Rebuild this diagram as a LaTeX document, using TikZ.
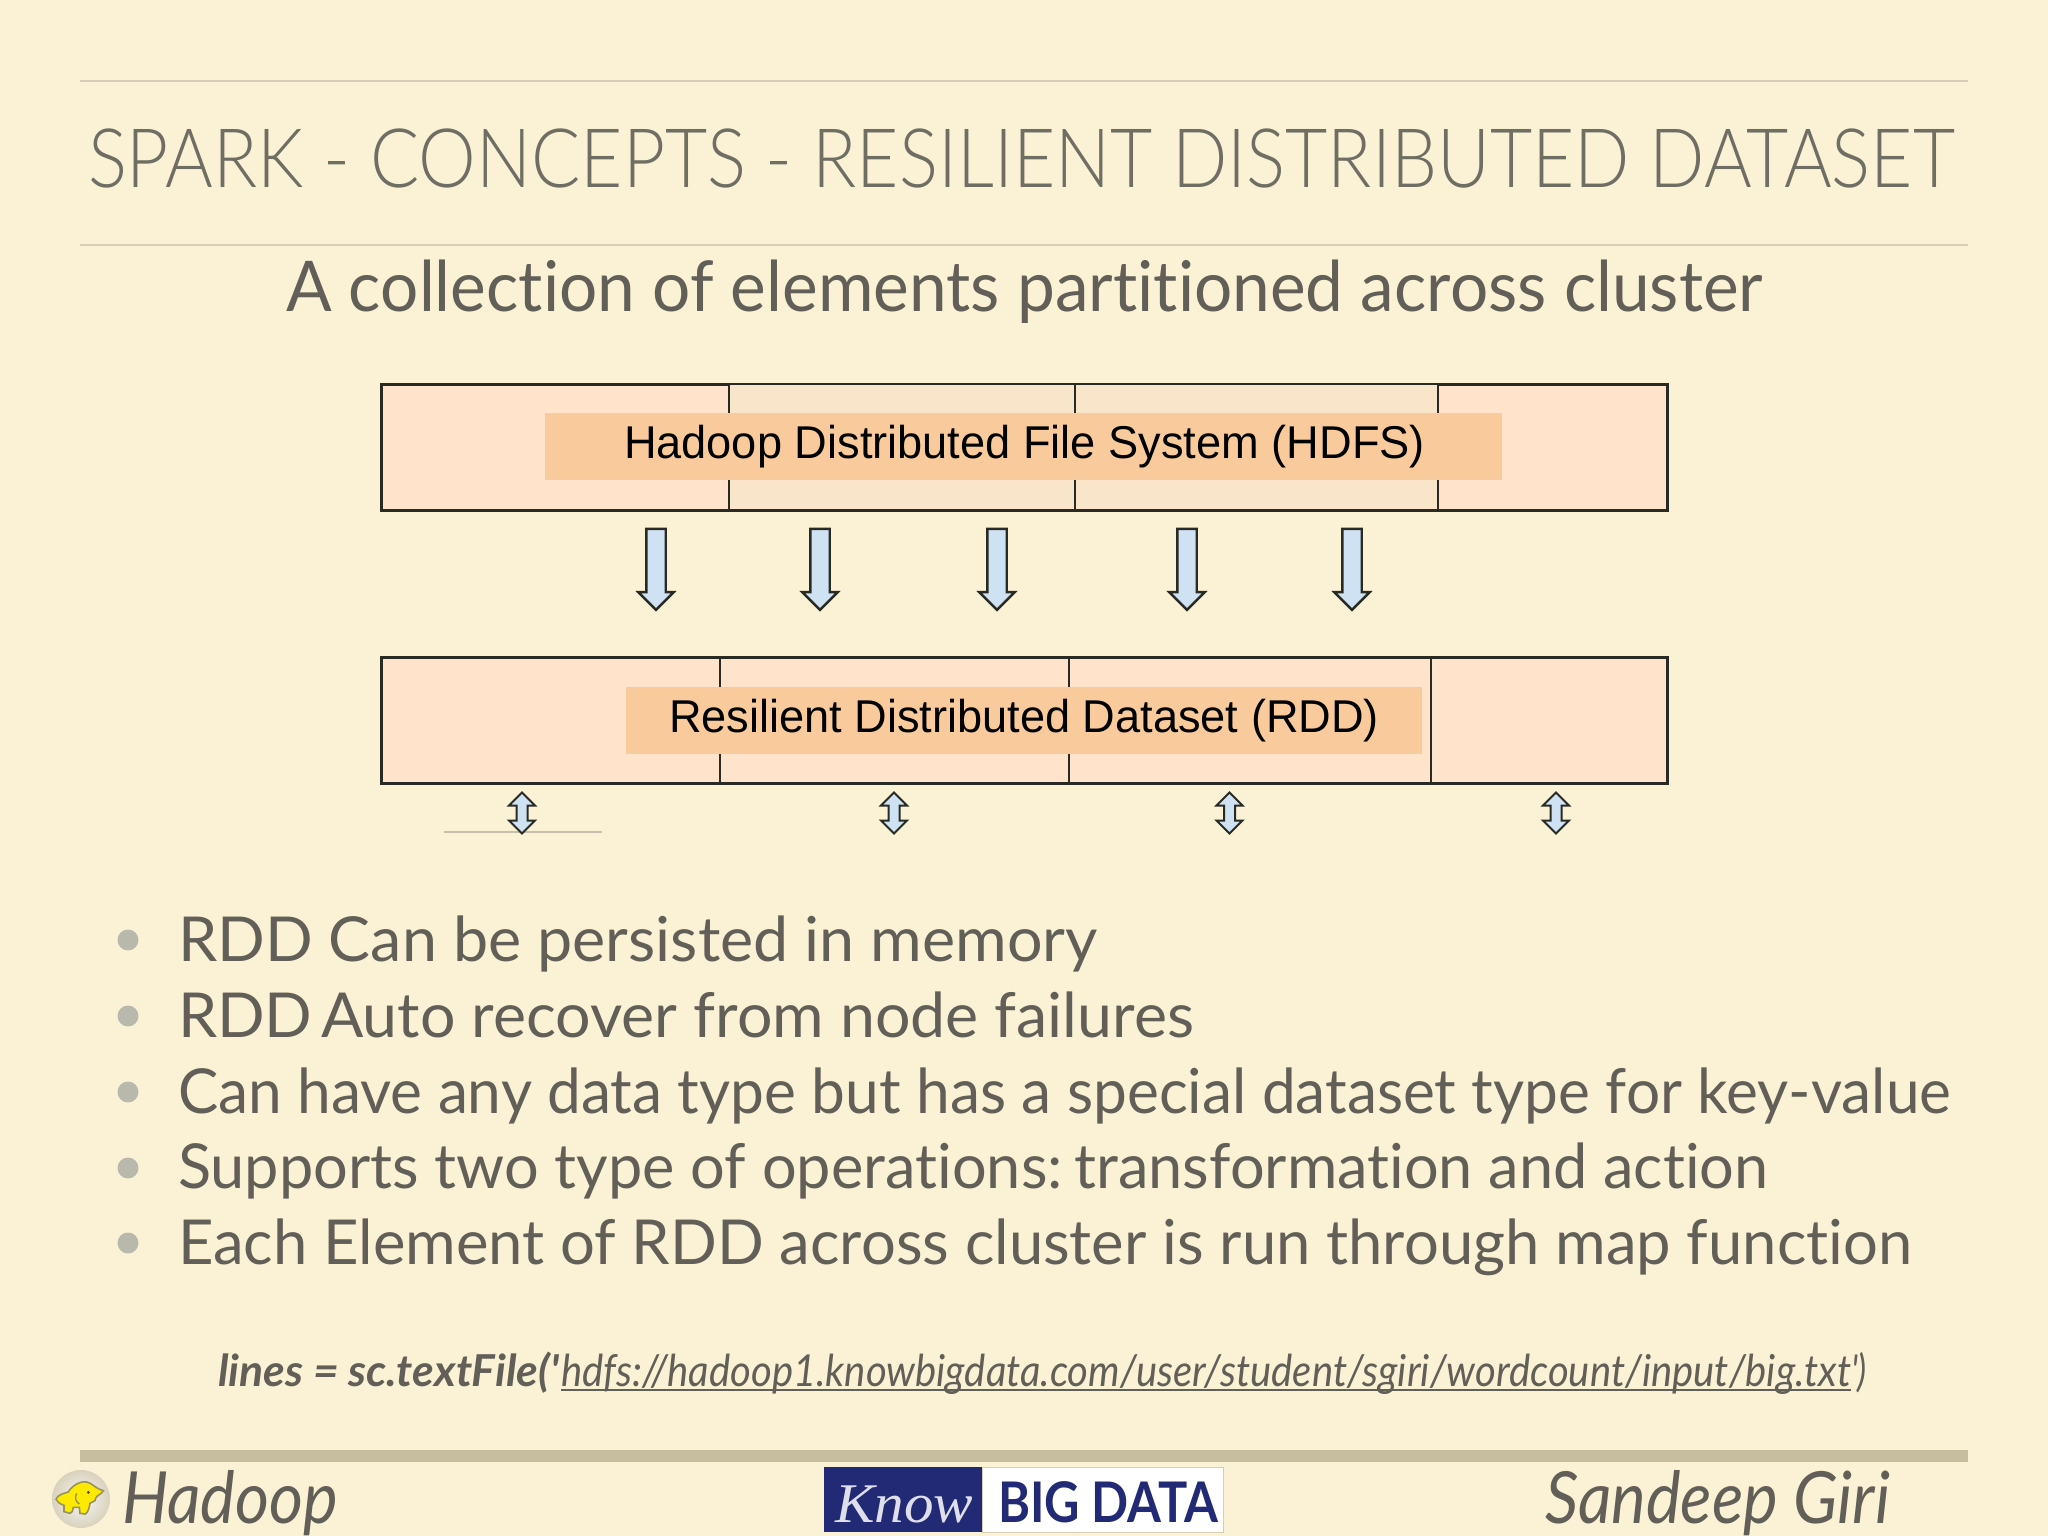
\documentclass[tikz,border=0pt]{standalone}
\usepackage{fontspec}
\usepackage{graphicx}
\usetikzlibrary{shapes.arrows}
\setmainfont{Lato}[Ligatures={NoCommon}]
\newfontfamily\lightf{Lato Light}[Ligatures={NoCommon}]
\newfontfamily\arialf{Liberation Sans}
\newfontfamily\serifx{Liberation Serif}
\newfontfamily\codef{Lato}[Ligatures={NoCommon}]
\newcommand{\fitw}[2]{\resizebox{#1pt}{\height}{#2}}
\newcommand{\fsz}[1]{\fontsize{#1pt}{#1pt}\selectfont}
\definecolor{bgc}{HTML}{FBF2D5}
\definecolor{rulec}{HTML}{D6CFB6}
\definecolor{barc}{HTML}{C7BD9F}
\definecolor{titlec}{HTML}{6F6E64}
\definecolor{bodyc}{HTML}{625F58}
\definecolor{bulc}{HTML}{B9B8AC}
\definecolor{cellc}{HTML}{FFE3CB}
\definecolor{cellm}{HTML}{F9E5C9}
\definecolor{labc}{HTML}{F9CB9C}
\definecolor{linec}{HTML}{2A2A24}
\definecolor{arrc}{HTML}{CFE2F3}
\definecolor{navyc}{HTML}{232A75}
\tikzset{
  txt/.style={anchor=base west,inner sep=0pt,outer sep=0pt},
  box/.style={draw=linec,line width=3pt,fill=cellc,anchor=north west,inner sep=0pt,minimum width=1286pt,minimum height=126pt},
  lab/.style={fill=labc,anchor=north west,inner sep=0pt},
  div/.style={draw=linec,line width=2pt},
  down/.style={single arrow,shape border rotate=270,draw=linec,line width=2.4pt,fill=arrc,inner sep=8.5pt,minimum height=81pt,minimum width=33pt,single arrow head extend=8pt,single arrow head indent=0pt},
  updown/.style={double arrow,shape border rotate=90,draw=linec,line width=2pt,fill=arrc,inner sep=4.5pt,minimum height=41pt,minimum width=24pt,double arrow head extend=7.5pt},
  bul/.style={circle,fill=bulc,inner sep=0pt,minimum size=21pt},
  blt/.style={txt,text=bodyc,font=\fsz{62}}
}
\begin{document}
\begin{tikzpicture}[x=1pt,y=-1pt]
\useasboundingbox (0,0) rectangle (2048,1536);
\fill[bgc] (0,0) rectangle (2048,1536);
% rules
\coordinate (r1a) at (80,81); \coordinate (r1b) at (1968,81);
\coordinate (r2a) at (80,245); \coordinate (r2b) at (1968,245);
\draw[rulec,line width=1.5pt] (r1a) -- (r1b);
\draw[rulec,line width=1.5pt] (r2a) -- (r2b);
\fill[barc] (80,1450) rectangle (1968,1462);
% title
\node[txt,text=titlec,font=\lightf\fsz{82}] (title) at (88,187) {\fitw{1867}{SPARK - CONCEPTS - RESILIENT DISTRIBUTED DATASET}};
\node[txt,text=bodyc,font=\fsz{70}] (sub) at (286,311) {\fitw{1477}{A collection of elements partitioned across cluster}};
% HDFS box
\node[box] (hdfs) at (380,383) {};
\fill[cellm] (729,385) rectangle (1438,507);
\draw[div] (729,383) -- (729,509);
\draw[div] (1075,383) -- (1075,509);
\draw[div] (1438,383) -- (1438,509);
\node[lab,minimum width=957pt,minimum height=67pt] (hdfsl) at (545,413) {};
\node[txt,font=\arialf\fsz{46},text=black] (hdfst) at (624,458) {\fitw{801}{Hadoop Distributed File System (HDFS)}};
% down arrows
\node[down] (a1) at (656,564.5) {};
\node[down] (a2) at (820,564.5) {};
\node[down] (a3) at (997,564.5) {};
\node[down] (a4) at (1187,564.5) {};
\node[down] (a5) at (1352,564.5) {};
% RDD box
\node[box] (rdd) at (380,656) {};
\draw[div] (720,656) -- (720,782);
\draw[div] (1069,656) -- (1069,782);
\draw[div] (1431,656) -- (1431,782);
\node[lab,minimum width=796pt,minimum height=67pt] (rddl) at (626,687) {};
\node[txt,font=\arialf\fsz{46},text=black] (rddt) at (669,732) {\fitw{710}{Resilient Distributed Dataset (RDD)}};
% double arrows
\draw[rulec!80!gray,line width=1.5pt] (444,832) -- (602,832);
\node[updown] (d1) at (522,813) {};
\node[updown] (d2) at (894,813) {};
\node[updown] (d3) at (1229.5,813) {};
\node[updown] (d4) at (1556,813) {};
% bullets
\node[bul] (b1) at (128,940) {};
\node[bul] (b2) at (128,1016) {};
\node[bul] (b3) at (128,1092) {};
\node[bul] (b4) at (128,1168) {};
\node[bul] (b5) at (128,1243) {};
\node[blt] (t1) at (178,961) {\fitw{920}{RDD Can be persisted in memory}};
\node[blt] (t2) at (178,1037) {\fitw{1016}{RDD\hspace{-.12em} Auto recover from node failures}};
\node[blt] (t3) at (178,1113) {\fitw{1773}{Can have any data type but has a special dataset type for key-value}};
\node[blt] (t4) at (178,1188) {\fitw{1590}{Supports two type of operations:\hspace{-.15em} transformation and action}};
\node[blt] (t5) at (178,1264) {\fitw{1734}{Each Element of RDD across cluster is run through map function}};
% code
\node[txt,text=bodyc,font=\codef\itshape\bfseries\fsz{44}] (code) at (218,1386) {\fitw{341}{lines = sc.textFile('}};
\node[txt,text=bodyc,font=\codef\itshape\fsz{44}] (url) at (561,1386) {\fitw{1290}{hdfs://hadoop1.knowbigdata.com/user/student/sgiri/wordcount/input/big.txt}};
\node[txt,text=bodyc,font=\codef\itshape\fsz{44}] (codee) at (1851,1386) {\fitw{16}{')}};
\draw[bodyc,line width=2pt] (561,1390) -- (1851,1390);
% footer
\shade[inner color=white!94!gray,outer color=gray!28!bgc] (81,1499) circle (29);
\begin{scope}[shift={(40,1460)},x=.3333pt,y=-.3333pt]
\fill[yellow!92!orange,draw=black!45!yellow!70!gray,line width=1.6pt] (190,92) .. controls (182,108) and (170,100) .. (165,122) -- (150,130) .. controls (148,145) and (142,160) .. (136,162) -- (120,160) -- (118,142) -- (100,142) .. controls (98,152) and (96,160) .. (90,160) -- (72,155) -- (72,136) .. controls (60,132) and (52,126) .. (48,118) .. controls (52,105) and (70,100) .. (85,96) .. controls (95,78) and (120,62) .. (140,66) .. controls (155,68) and (165,85) .. (190,92) -- cycle;
\fill[black!70] (145,97) circle (5);
\draw[black!45!yellow!70!gray,line width=1.4pt] (110,100) .. controls (104,112) and (106,125) .. (118,132);
\end{scope}
\node[txt,text=bodyc,font=\itshape\fsz{72}] (had) at (122,1523) {\fitw{216}{Hadoop}};
\node[txt,text=bodyc,font=\itshape\fsz{72}] (san) at (1545,1523) {\fitw{345}{Sandeep Giri}};
\node[fill=navyc,anchor=north west,inner sep=0pt,minimum width=158pt,minimum height=65pt] (logoa) at (824,1467) {};
\node[fill=white,draw=rulec,line width=.8pt,anchor=north west,inner sep=0pt,minimum width=241pt,minimum height=65pt] (logob) at (982,1467) {};
\node[txt,text=white!85!navyc,font=\serifx\itshape\fsz{56}] (know) at (835,1522) {\fitw{138}{Know}};
\node[txt,text=navyc,font=\bfseries\fsz{56}] (big) at (998,1522) {\fitw{220}{BIG DATA}};
\end{tikzpicture}
\end{document}
